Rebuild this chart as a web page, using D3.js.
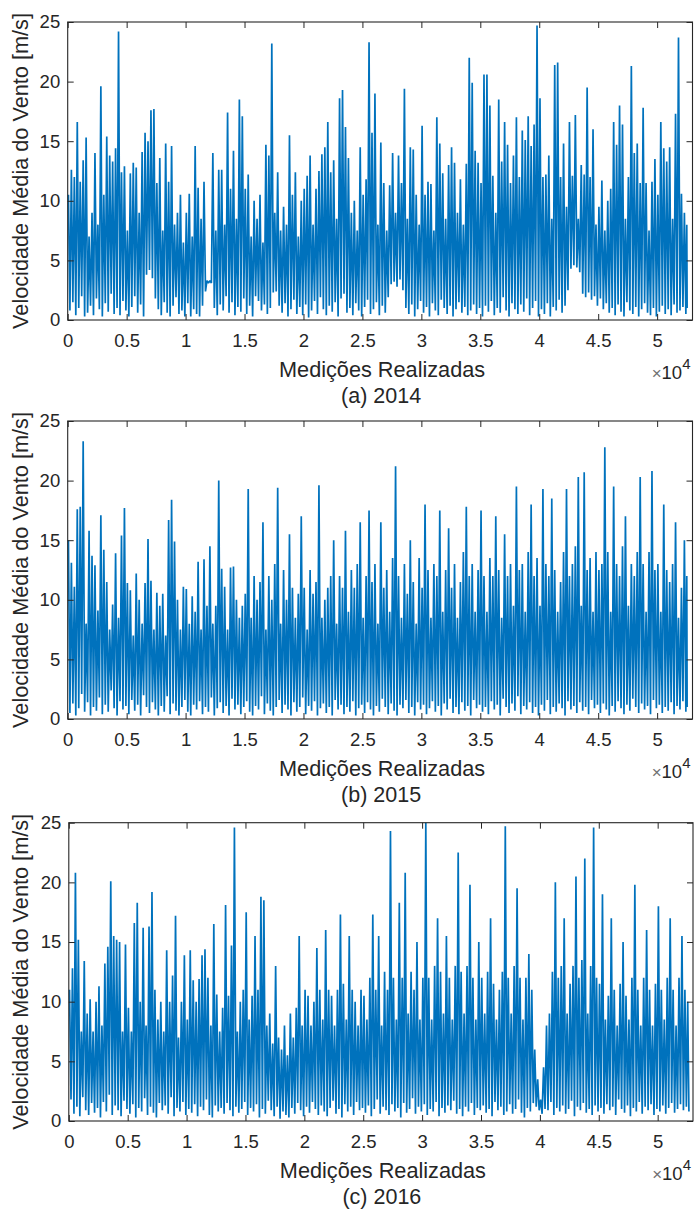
<!DOCTYPE html>
<html>
<head>
<meta charset="utf-8">
<script src="https://cdn.jsdelivr.net/npm/d3@7"></script>
<style>
  html, body { margin: 0; padding: 0; background: #fff; }
  svg { display: block; }
  text { font-family: "Liberation Sans", Arial, Helvetica, sans-serif; fill: #262626; }
</style>
</head>
<body>
<script>
// Mean wind speed (m/s), 10-minute records, summarised in blocks of 250 records:
// highest and lowest reading of each block.
const blockSize = 250;
const years = ["2014", "2015", "2016"];
const captions = ["(a) 2014", "(b) 2015", "(c) 2016"];
const recordCounts = [52560, 52560, 52704];
const xTickValues = [0, 5000, 10000, 15000, 20000, 25000, 30000, 35000, 40000, 45000, 50000];
const xTickLabels = ["0", "0.5", "1", "1.5", "2", "2.5", "3", "3.5", "4", "4.5", "5"];
const yTickValues = [0, 5, 10, 15, 20, 25];
const xLabel = "Medições Realizadas";
const yLabel = "Velocidade Média do Vento [m/s]";

const high2014 = [
  10.5,12.6,12.0,16.6,11.6,13.4,15.3,7.0,9.0,14.0,8.0,19.6,10.5,15.4,13.8,13.3,14.4,24.2,12.4,12.9,
  7.5,12.3,13.2,12.8,9.0,14.1,15.7,15.0,17.6,17.7,11.5,13.6,7.5,14.8,11.6,14.6,8.0,9.0,10.5,6.5,
  9.0,10.6,7.0,14.6,11.1,8.5,11.6,3.3,3.3,14.0,7.5,12.6,12.6,8.0,17.4,11.0,14.2,8.5,18.5,17.1,
  11.0,12.2,7.0,10.0,8.5,10.5,6.5,14.7,13.8,23.2,9.0,12.4,7.5,9.5,8.0,15.5,10.5,12.4,7.0,10.0,
  11.0,12.1,13.8,8.0,11.0,12.5,13.9,14.5,16.6,12.4,13.4,8.5,18.6,19.3,16.2,13.6,9.0,10.0,7.5,14.5,
  10.5,11.8,23.3,15.7,19.0,8.0,14.9,11.5,7.5,11.3,14.0,9.0,13.8,11.5,19.4,8.5,14.5,14.3,10.5,8.0,
  16.3,10.5,11.6,11.4,7.5,17.0,14.8,12.3,8.5,13.0,14.5,13.2,9.0,11.8,8.0,13.1,22.0,19.9,14.2,13.2,
  11.5,20.6,20.6,18.0,12.1,9.0,18.5,13.3,16.6,14.7,11.5,13.8,17.0,12.0,15.9,15.1,17.1,14.6,16.4,24.7,
  18.6,12.0,12.2,13.8,8.5,21.4,21.6,12.0,14.8,9.5,16.6,12.1,17.2,8.5,13.0,12.2,19.5,12.0,16.0,8.0,
  9.5,11.7,7.5,10.0,11.0,16.6,14.7,18.0,16.4,8.5,12.0,21.3,14.0,14.8,11.5,17.8,11.5,7.5,11.6,13.5,
  10.5,16.6,14.4,13.3,14.5,8.5,17.3,23.7,10.6,9.0,8.0
];
const low2014 = [
  0.8,1.5,0.4,1.0,2.0,0.3,0.6,1.2,0.4,1.8,0.9,0.3,1.4,0.7,2.2,0.5,1.0,0.4,1.6,0.8,
  0.3,1.1,2.0,0.6,1.3,0.3,3.8,4.2,3.5,1.8,0.9,0.4,1.5,0.6,0.3,1.2,1.9,0.5,0.8,0.3,
  1.4,0.3,0.9,0.5,0.3,1.2,2.4,3.1,3.1,1.0,0.4,1.3,0.8,2.0,0.6,1.5,0.4,1.1,0.7,1.8,
  0.5,1.2,0.3,2.0,1.6,0.8,1.3,0.5,1.0,2.3,2.4,1.2,0.6,1.4,0.3,0.9,1.7,0.5,1.1,0.4,
  1.3,0.2,0.8,1.6,0.5,1.9,0.9,0.4,1.2,0.7,1.5,0.3,1.8,2.2,0.6,1.0,0.4,1.4,0.8,0.3,
  1.1,1.7,0.5,0.9,1.5,0.4,1.2,0.6,1.9,3.0,3.2,2.8,3.4,2.5,1.0,0.5,1.3,0.3,0.9,1.6,
  0.6,1.1,0.3,1.4,0.8,0.4,1.7,1.0,0.5,1.2,0.3,0.9,1.5,0.6,1.1,0.4,0.8,1.3,0.5,1.0,
  0.3,1.2,0.7,1.6,0.4,1.0,0.6,1.9,0.8,0.3,1.4,0.9,0.5,1.3,0.7,1.8,0.4,1.0,1.6,0.3,
  0.9,0.5,1.4,0.3,1.1,0.8,1.7,0.6,1.2,2.5,4.3,4.6,4.4,4.0,2.2,1.9,2.3,1.7,2.0,1.2,
  1.8,0.9,1.4,0.6,1.0,0.4,1.3,0.7,0.3,1.5,0.8,0.5,1.1,0.3,0.9,1.4,0.6,0.4,1.0,0.3,
  0.7,1.2,0.5,0.9,0.4,1.3,0.6,0.8,1.1,0.5,1.0
];

const high2015 = [
  15.0,13.1,11.1,17.6,17.8,23.3,8.0,15.8,13.7,12.9,9.1,17.1,14.2,11.5,7.5,9.6,13.9,8.5,15.4,17.7,
  11.4,10.8,7.0,12.2,10.0,8.0,11.4,15.1,11.6,7.5,10.6,9.5,10.5,7.0,16.7,18.4,14.9,10.0,7.5,11.1,
  10.9,8.0,10.3,9.0,13.2,7.5,13.4,9.5,14.5,8.0,9.5,20.0,12.6,11.1,7.5,12.7,12.8,10.0,8.5,9.5,
  10.5,19.3,8.5,12.0,10.0,11.5,16.5,7.5,12.0,10.0,13.0,19.4,8.0,12.5,10.0,15.5,11.0,8.5,10.5,17.0,
  11.0,7.5,12.5,10.5,11.5,19.6,8.5,10.0,11.0,12.0,15.0,8.0,12.0,11.0,15.8,9.0,12.5,11.0,13.0,16.5,
  8.5,12.0,17.5,11.5,13.0,8.0,16.5,11.0,12.5,9.0,13.5,21.2,12.0,8.5,13.0,10.5,15.0,11.5,8.0,13.5,
  11.0,18.0,12.5,8.5,13.0,12.0,17.5,9.0,12.5,16.0,11.0,13.0,8.5,11.5,14.0,17.8,12.0,13.0,9.0,12.5,
  17.5,12.0,9.0,13.5,12.0,17.0,12.5,8.5,15.5,12.0,13.0,9.5,19.5,12.5,13.0,9.0,14.0,18.0,12.0,13.5,
  9.5,19.3,13.0,12.0,18.5,12.5,9.0,11.5,14.0,19.3,12.0,13.0,14.5,20.3,9.5,20.7,12.5,13.5,9.0,14.0,
  12.5,13.0,22.8,14.0,9.0,19.5,13.0,12.0,14.5,17.0,9.5,13.0,12.0,14.0,20.3,13.0,9.0,14.0,20.8,12.5,
  13.0,9.0,18.0,12.5,11.5,13.0,16.5,8.5,11.0,15.0,12.0
];
const low2015 = [
  0.5,1.3,0.3,0.9,2.1,0.6,1.4,0.3,1.0,0.7,1.8,0.4,1.2,0.6,2.4,0.9,0.3,1.5,0.8,1.1,
  0.4,1.6,0.7,1.2,0.3,2.0,1.0,0.5,1.4,0.8,0.3,1.1,0.6,1.9,0.4,1.3,0.7,0.3,1.0,1.6,
  0.6,0.3,1.2,0.8,1.5,0.4,1.0,0.6,1.8,0.3,0.9,1.4,0.5,1.1,0.3,1.7,0.8,1.2,0.4,1.0,
  1.5,0.6,0.3,1.1,0.8,1.9,0.4,1.3,0.7,0.3,1.0,1.6,0.5,1.2,0.8,0.3,1.4,0.6,1.0,1.8,
  0.4,1.1,0.7,1.5,0.3,0.9,1.3,0.5,1.0,0.3,1.6,0.8,1.2,0.4,1.0,0.6,1.5,0.3,0.9,1.2,
  0.5,1.4,0.8,0.3,1.1,0.6,1.7,1.0,0.4,1.3,0.7,0.3,1.2,0.9,1.6,0.5,1.0,0.3,1.4,0.8,
  1.2,0.4,0.9,1.5,0.6,1.1,0.3,1.3,0.8,1.7,0.5,1.0,0.4,1.4,0.7,1.1,0.3,1.6,0.9,1.2,
  0.6,1.0,0.4,1.5,0.8,1.2,0.3,1.7,1.0,0.5,1.3,0.7,1.9,0.4,1.1,0.8,1.4,0.5,1.0,0.3,
  1.2,0.7,1.6,0.4,1.0,0.6,1.3,0.9,0.3,1.5,0.8,1.1,0.5,1.4,0.7,1.0,0.4,1.6,0.9,1.2,
  0.5,1.3,0.8,0.3,1.1,0.6,1.5,0.9,0.4,1.2,0.7,1.7,1.0,0.5,1.3,0.8,1.1,0.4,1.6,0.9,
  1.2,0.5,1.0,0.7,1.4,0.4,1.1,0.8,1.5,0.6,1.0
];

const high2016 = [
  11.0,12.8,20.8,15.2,7.5,13.4,9.0,10.2,7.5,10.0,11.3,8.0,13.2,14.6,20.1,15.5,15.2,15.0,7.5,14.8,
  9.5,7.5,16.6,18.3,10.0,16.2,8.0,16.3,19.2,11.0,8.5,10.0,7.5,14.3,10.0,12.2,17.2,7.0,10.0,13.9,
  8.5,14.3,11.8,10.0,11.9,13.9,14.4,12.0,8.0,16.5,10.6,7.5,9.5,18.1,10.5,14.7,24.6,7.5,10.0,11.0,
  17.5,8.5,10.5,15.5,11.0,18.8,18.5,8.0,9.0,6.5,13.0,7.0,6.0,8.0,5.5,9.0,7.0,9.5,15.5,8.0,
  11.0,10.5,8.0,10.0,14.5,11.0,8.5,16.0,11.0,10.5,8.0,11.0,17.3,11.5,8.5,15.5,11.0,10.0,8.0,11.0,
  10.5,8.5,12.0,17.3,11.0,15.5,8.0,12.5,11.0,24.3,12.0,8.5,18.3,12.0,20.8,9.0,12.5,11.0,15.0,8.5,
  12.0,25.0,12.0,8.5,13.0,17.0,12.5,9.0,15.5,12.0,8.5,13.0,22.5,12.5,9.0,13.0,19.8,12.0,8.5,15.0,
  12.0,9.0,12.5,17.0,11.5,8.5,11.0,12.5,24.7,12.0,9.0,13.0,19.5,12.0,8.5,12.0,14.0,11.0,6.0,3.5,
  1.8,4.5,8.0,9.0,12.5,20.0,12.0,13.0,17.0,9.0,11.5,13.0,20.5,12.0,13.5,22.0,9.0,13.0,24.6,12.0,
  11.5,19.0,8.5,10.5,17.0,11.0,8.0,11.5,15.0,10.5,8.5,12.0,19.8,11.0,8.0,12.0,16.0,11.0,8.0,11.5,
  18.0,11.0,8.5,12.0,17.0,11.0,8.0,12.0,15.5,11.0,10.0
];
const low2016 = [
  1.8,0.6,1.2,0.4,2.0,0.9,0.5,1.5,0.7,1.1,0.3,1.6,0.8,2.2,0.5,1.3,0.9,0.4,1.7,1.0,
  0.6,1.4,0.3,1.1,0.8,1.9,0.5,1.2,0.7,0.3,1.5,0.9,1.3,0.6,2.0,0.4,1.1,0.8,1.6,0.5,
  1.0,0.7,1.4,0.4,1.2,0.9,1.8,0.5,0.3,1.3,0.8,1.1,0.6,1.5,0.9,0.4,1.2,0.7,1.0,1.6,
  0.5,1.1,0.8,1.4,0.3,1.0,0.6,1.7,0.9,0.4,1.2,0.2,0.8,0.5,0.3,1.1,0.6,1.5,0.9,0.4,
  1.2,0.7,1.6,1.0,0.5,1.3,0.8,0.4,1.1,1.7,0.6,1.0,0.3,1.4,0.8,1.2,0.5,1.6,0.9,1.1,
  0.7,1.3,0.4,1.0,1.8,0.6,1.2,0.9,0.5,1.4,0.8,1.1,0.3,1.5,0.7,1.0,1.9,0.6,1.2,0.8,
  1.4,0.5,1.0,0.8,1.6,0.4,1.1,0.7,1.3,0.9,1.7,0.6,1.0,0.4,1.2,0.8,1.5,0.5,1.1,0.9,
  1.3,0.7,1.0,0.4,1.6,0.9,1.2,0.5,0.8,1.4,0.6,1.0,1.8,0.7,0.3,1.1,0.8,1.5,1.2,0.9,
  0.6,1.0,0.9,1.6,0.5,1.1,0.8,1.3,0.6,1.0,1.7,0.4,1.2,0.9,1.5,0.7,1.0,0.5,1.3,0.8,
  1.1,0.6,1.4,0.9,1.2,0.5,1.8,1.0,0.7,1.3,0.4,1.1,0.8,1.6,0.6,1.2,0.9,1.4,0.5,1.0,
  0.8,1.3,0.6,1.1,1.5,0.7,1.0,1.4,0.9,1.2,0.8
];

const highs = [high2014, high2015, high2016];
const lows = [low2014, low2015, low2016];

// ---- layout ----
const W = 695, H = 1209;
const frames = [
  { left: 67.7, right: 692.5, top: 22, bottom: 320 },
  { left: 67.7, right: 692.5, top: 421, bottom: 719 },
  { left: 68.8, right: 693, top: 822.7, bottom: 1121 }
];
const ink = "#262626";
const lineColor = "#0072BD";
const fontStack = '"Liberation Sans", Arial, Helvetica, sans-serif';

const svg = d3.select("body").append("svg")
  .attr("width", W).attr("height", H)
  .attr("viewBox", `0 0 ${W} ${H}`);

years.forEach((yr, i) => {
  const f = frames[i];
  const x = d3.scaleLinear().domain([0, 53000]).range([f.left, f.right]);
  const y = d3.scaleLinear().domain([0, 25]).range([f.bottom, f.top]);
  const n = recordCounts[i];

  // each block contributes its peak and its trough, in alternation
  const pts = [];
  highs[i].forEach((hv, k) => {
    const start = k * blockSize;
    const end = Math.min(n, start + blockSize);
    const w = end - start;
    pts.push([start + w * 0.25, hv]);
    pts.push([start + w * 0.75, lows[i][k]]);
  });

  const g = svg.append("g");

  g.append("rect")
    .attr("x", f.left).attr("y", f.top)
    .attr("width", f.right - f.left).attr("height", f.bottom - f.top)
    .attr("fill", "#fff");

  g.append("path")
    .datum(pts)
    .attr("fill", "none")
    .attr("stroke", lineColor)
    .attr("stroke-width", 1.7)
    .attr("stroke-linejoin", "bevel")
    .attr("d", d3.line().x(d => x(d[0])).y(d => y(d[1])));

  // box axes with inward ticks on all four sides
  const tickLen = 6;
  const bottomAxis = d3.axisBottom(x).tickValues(xTickValues)
    .tickFormat((d, j) => xTickLabels[j]).tickSizeInner(-tickLen).tickSizeOuter(0).tickPadding(13.5);
  const topAxis = d3.axisTop(x).tickValues(xTickValues)
    .tickFormat("").tickSizeInner(-tickLen).tickSizeOuter(0);
  const leftAxis = d3.axisLeft(y).tickValues(yTickValues)
    .tickFormat(d3.format("d")).tickSizeInner(-tickLen).tickSizeOuter(0).tickPadding(7.5);
  const rightAxis = d3.axisRight(y).tickValues(yTickValues)
    .tickFormat("").tickSizeInner(-tickLen).tickSizeOuter(0);

  const styleAxis = sel => {
    sel.select(".domain").remove();
    sel.selectAll(".tick line").attr("stroke", ink).attr("stroke-width", 1);
    sel.selectAll(".tick text")
      .attr("fill", ink)
      .style("font-family", fontStack)
      .style("font-size", "18.5px");
  };

  g.append("g").attr("transform", `translate(0,${f.bottom})`).call(bottomAxis).call(styleAxis);
  g.append("g").attr("transform", `translate(0,${f.top})`).call(topAxis).call(styleAxis);
  g.append("g").attr("transform", `translate(${f.left},0)`).call(leftAxis).call(styleAxis);
  g.append("g").attr("transform", `translate(${f.right},0)`).call(rightAxis).call(styleAxis);

  g.append("rect")
    .attr("x", f.left).attr("y", f.top)
    .attr("width", f.right - f.left).attr("height", f.bottom - f.top)
    .attr("fill", "none").attr("stroke", ink).attr("stroke-width", 1.1);

  // axis labels
  g.append("text")
    .attr("x", (f.left + f.right) / 2 + 2).attr("y", f.bottom + 57)
    .attr("text-anchor", "middle")
    .style("font-size", "21.7px")
    .text(xLabel);

  g.append("text")
    .attr("transform", `translate(27.5,${(f.top + f.bottom) / 2}) rotate(-90)`)
    .attr("text-anchor", "middle")
    .style("font-size", "21.7px")
    .text(yLabel);

  // exponent of the x axis
  const ex = g.append("text")
    .attr("x", f.right - 2).attr("y", f.bottom + 59)
    .attr("text-anchor", "end")
    .style("font-size", "18.5px");
  ex.append("tspan").style("font-size", "17px").style("fill", "#707070").text("×");
  ex.append("tspan").text("10");
  ex.append("tspan").attr("dy", -10).style("font-size", "15px").text("4");

  // caption
  g.append("text")
    .attr("x", (f.left + f.right) / 2 + 1).attr("y", f.bottom + 83)
    .attr("text-anchor", "middle")
    .style("font-size", "21.5px")
    .text(captions[i]);
});
</script>
</body>
</html>
